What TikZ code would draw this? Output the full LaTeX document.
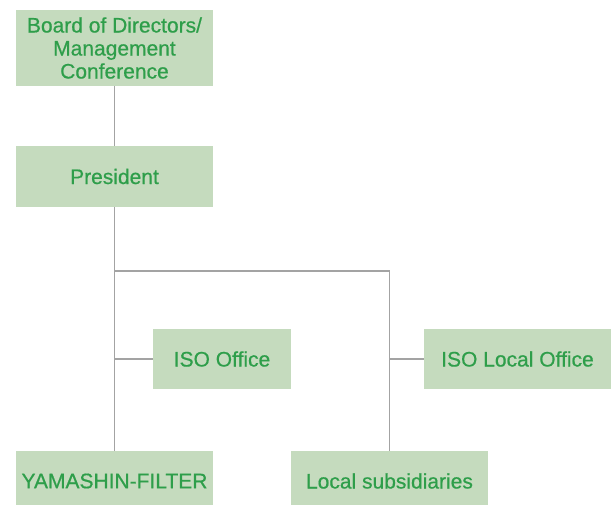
\documentclass[tikz,border=0pt]{standalone}
\usepackage{fontspec}
\setmainfont{Liberation Sans}
\newfontfamily\unitfont{Liberation Sans}[FakeBold=0.6]
\usepackage{tikz}
\definecolor{boxfill}{HTML}{C5DBBE}
\definecolor{boxtext}{HTML}{2E9E4A}
\definecolor{linegray}{HTML}{A3A3A3}

\begin{document}
\begin{tikzpicture}[x=1pt, y=-1pt]
    % Styles
    \tikzstyle{unit} = [rectangle, fill=boxfill, text=boxtext, inner sep=0pt, minimum height=60pt, align=center, font=\unitfont\fontsize{21}{23}\selectfont]
    \tikzstyle{link} = [draw=linegray, line width=1.6pt]

    \clip (0,0) rectangle (611,504);

    % Nodes
    \node[unit, minimum width=197pt, minimum height=76pt] (board) at (114.5, 48) {Board of Directors/\\Management\\Conference};
    \node[unit, minimum width=197pt, minimum height=61pt] (pres) at (114.5, 176.5) {President};
    \node[unit, minimum width=138pt] (iso) at (222, 359) {ISO Office};
    \node[unit, minimum width=187pt] (isolocal) at (517.5, 359) {ISO Local Office};
    \node[unit, minimum width=197pt] (yama) at (114.5, 481) {YAMASHIN-FILTER};
    \node[unit, minimum width=197pt] (localsub) at (389.5, 481) {Local subsidiaries};

    % Junctions
    \coordinate (hub) at (114.5, 271);
    \coordinate (hubR) at (389.5, 271);
    \coordinate (isojoin) at (114.5, 359);
    \coordinate (localjoin) at (389.5, 359);

    % Lines
    \draw[link] (board) -- (pres);
    \draw[link] (pres) -- (yama);
    \draw[link] (hub) -- (hubR) -- (localsub);
    \draw[link] (isojoin) -- (iso);
    \draw[link] (localjoin) -- (isolocal);
\end{tikzpicture}
\end{document}
